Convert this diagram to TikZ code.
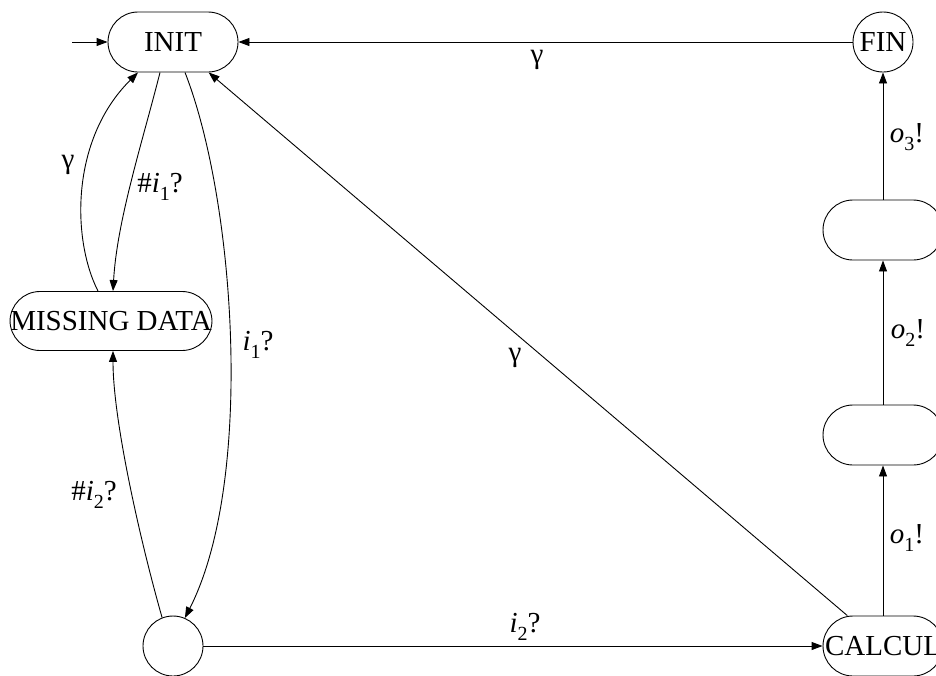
\documentclass[tikz,border=0pt]{standalone}
\usepackage{fontspec}
\setmainfont{Liberation Serif}
\usetikzlibrary{arrows.meta}
\newcommand{\mysub}[1]{\raisebox{-0.3em}{\fontsize{20}{20}\selectfont #1}}
\begin{document}
\begin{tikzpicture}[x=1pt,y=-1pt,
  every node/.style={font=\fontsize{29}{30}\selectfont},
  state/.style={draw,line width=0.9pt,rectangle,rounded corners=30pt,inner sep=0pt,minimum height=60pt},
  circstate/.style={draw,line width=0.9pt,circle,inner sep=0pt,minimum size=60pt},
  arr/.style={line width=0.9pt,-{Triangle[length=11pt,width=8pt]}},
  lbl/.style={inner sep=0pt}]
\clip (0,0) rectangle (936,675);
\node[state,minimum width=130pt] (INIT) at (173,42) {INIT};
\node[circstate] (FIN) at (883,42) {FIN};
\node[state,minimum width=120pt] (B2) at (883,230) {};
\node[state,minimum width=120pt] (B1) at (883,435) {};
\node[state,minimum width=120pt] (CALCUL) at (883,646) {CALCUL};
\node[state,minimum width=202pt,minimum height=59pt] (MD) at (111,321) {MISSING DATA};
\node[circstate] (BOT) at (173,646) {};
\coordinate (start) at (72,42);
% edges
\draw[arr] (start) -- (INIT);
\draw[arr] (FIN) -- (INIT);
\node[lbl] (g1) at (537,60) {γ};
\draw[arr] (CALCUL) -- (INIT);
\node[lbl] (g2) at (515,358) {γ};
\draw[arr] (BOT) -- (CALCUL);
\node[lbl] (l2) at (525,627) {\textit{i}\mysub{2}?};
\draw[arr] (CALCUL) -- (B1);
\node[lbl] (lo1) at (907,538) {\textit{o}\mysub{1}!};
\draw[arr] (B1) -- (B2);
\node[lbl] (lo2) at (908,333) {\textit{o}\mysub{2}!};
\draw[arr] (B2) -- (FIN);
\node[lbl] (lo3) at (907,137) {\textit{o}\mysub{3}!};
% curved
\draw[arr] ([xshift=-13pt]INIT.south) .. controls (143,140) and (117,220) .. ([xshift=2pt]MD.north);
\node[lbl] (li1h) at (160,187) {\#\textit{i}\mysub{1}?};
\draw[arr] ([xshift=-13pt]MD.north) .. controls (72,240) and (70,140) .. ([xshift=-35pt]INIT.south);
\node[lbl] (g3) at (68,165) {γ};
\draw[arr] ([xshift=12pt]INIT.south) .. controls (235,200) and (255,480) .. (BOT.67);
\node[lbl] (li1) at (258,345) {\textit{i}\mysub{1}?};
\draw[arr] (BOT.111) .. controls (140,540) and (113,420) .. ([xshift=2pt]MD.south);
\node[lbl] (li2h) at (94,495) {\#\textit{i}\mysub{2}?};
\end{tikzpicture}
\end{document}
